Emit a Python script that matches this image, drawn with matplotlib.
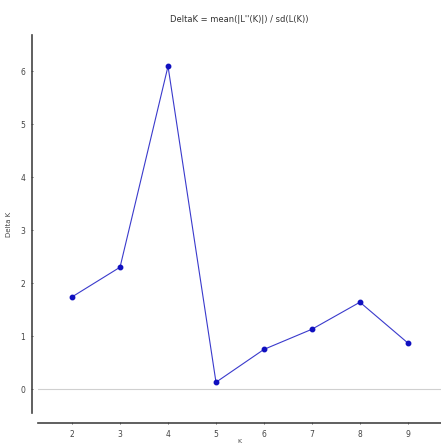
import matplotlib
matplotlib.use("Agg")
import matplotlib.pyplot as plt

k_values = [2, 3, 4, 5, 6, 7, 8, 9]
delta_k = [1.74, 2.30, 6.09, 0.13, 0.75, 1.13, 1.64, 0.87]
y_ticks = [0, 1, 2, 3, 4, 5, 6]

fig = plt.figure(figsize=(4.41, 4.46), dpi=100)
# axes box in pixels: x 38..441, y 35..413 (from top)
ax = fig.add_axes([38 / 441, 1 - 413 / 446, (441 - 38) / 441, (413 - 35) / 446])

ax.axhline(0, color="#d0d0d0", lw=0.8, zorder=1)
ax.plot(k_values, delta_k, color="#3a3acc", lw=0.8, zorder=2)
ax.plot(k_values, delta_k, "o", color="#1010c0", ms=3.2, zorder=3)

ax.set_xlim(1.29, 9.69)
ax.set_ylim(-0.45, 6.68)
ax.set_xticks(k_values)
ax.set_yticks(y_ticks)

for side in ["top", "right"]:
    ax.spines[side].set_visible(False)
ax.spines["left"].set_position(("outward", 4.3))
ax.spines["bottom"].set_position(("outward", 7.2))
for side in ["left", "bottom"]:
    ax.spines[side].set_color("#444444")
    ax.spines[side].set_linewidth(1.2)

ax.tick_params(axis="both", labelsize=5.5, length=2, width=0.6,
               colors="#444444", direction="inout", pad=4)

ax.set_title("DeltaK = mean(|L''(K)|) / sd(L(K))", fontsize=6, color="#333333", pad=9)
ax.set_ylabel("Delta K", fontsize=5, color="#444444", labelpad=6)
ax.set_xlabel("K", fontsize=4.5, color="#444444", labelpad=0)

fig.savefig("out.png", dpi=100)
